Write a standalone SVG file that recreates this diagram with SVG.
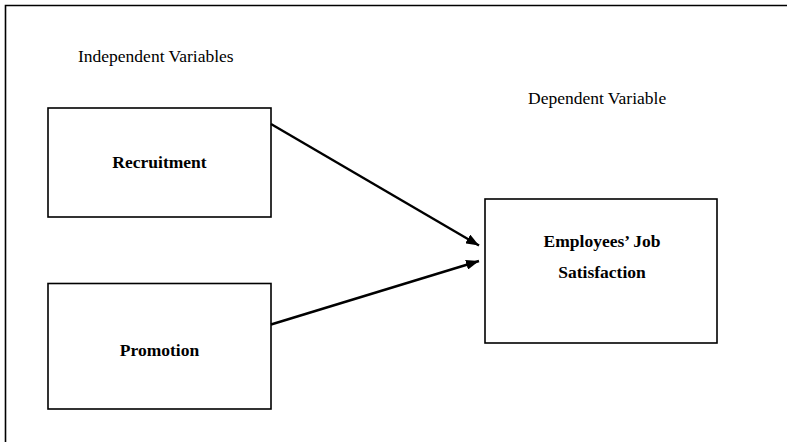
<svg xmlns="http://www.w3.org/2000/svg" width="787" height="442" viewBox="0 0 787 442">
<style>
.box{fill:#fff;stroke:#000;stroke-width:1.6}
.lbl{font-family:"Liberation Serif","Times New Roman",serif;font-size:17.5px;fill:#000}
.b{font-weight:bold;text-anchor:middle}
.conn{stroke:#000;stroke-width:2.4;fill:none}
</style>
<defs>
<marker id="ah" viewBox="0 0 13 10" refX="13" refY="5" markerWidth="13" markerHeight="10" markerUnits="userSpaceOnUse" orient="auto">
<path d="M0,0 L13,5 L0,10 Z" fill="#000"/>
</marker>
</defs>
<rect width="787" height="442" fill="#fff"/>
<path d="M5.5,442 V5.5 H787" fill="none" stroke="#000" stroke-width="1.6"/>
<text class="lbl" x="78" y="62">Independent Variables</text>
<text class="lbl" x="528" y="104">Dependent Variable</text>
<g id="recruitment">
<rect class="box" x="48" y="108" width="223" height="109"/>
<text class="lbl b" x="159.5" y="168">Recruitment</text>
</g>
<g id="promotion">
<rect class="box" x="48" y="283.5" width="223" height="125.5"/>
<text class="lbl b" x="159.5" y="356">Promotion</text>
</g>
<g id="satisfaction">
<rect class="box" x="485" y="199" width="232" height="144"/>
<text class="lbl b" x="602" y="247">Employees’ Job</text>
<text class="lbl b" x="602" y="277.5">Satisfaction</text>
</g>
<g id="connectors">
<line class="conn" x1="271" y1="124" x2="479" y2="245.5" marker-end="url(#ah)"/>
<line class="conn" x1="271" y1="324.5" x2="479" y2="261" marker-end="url(#ah)"/>
</g>
</svg>
